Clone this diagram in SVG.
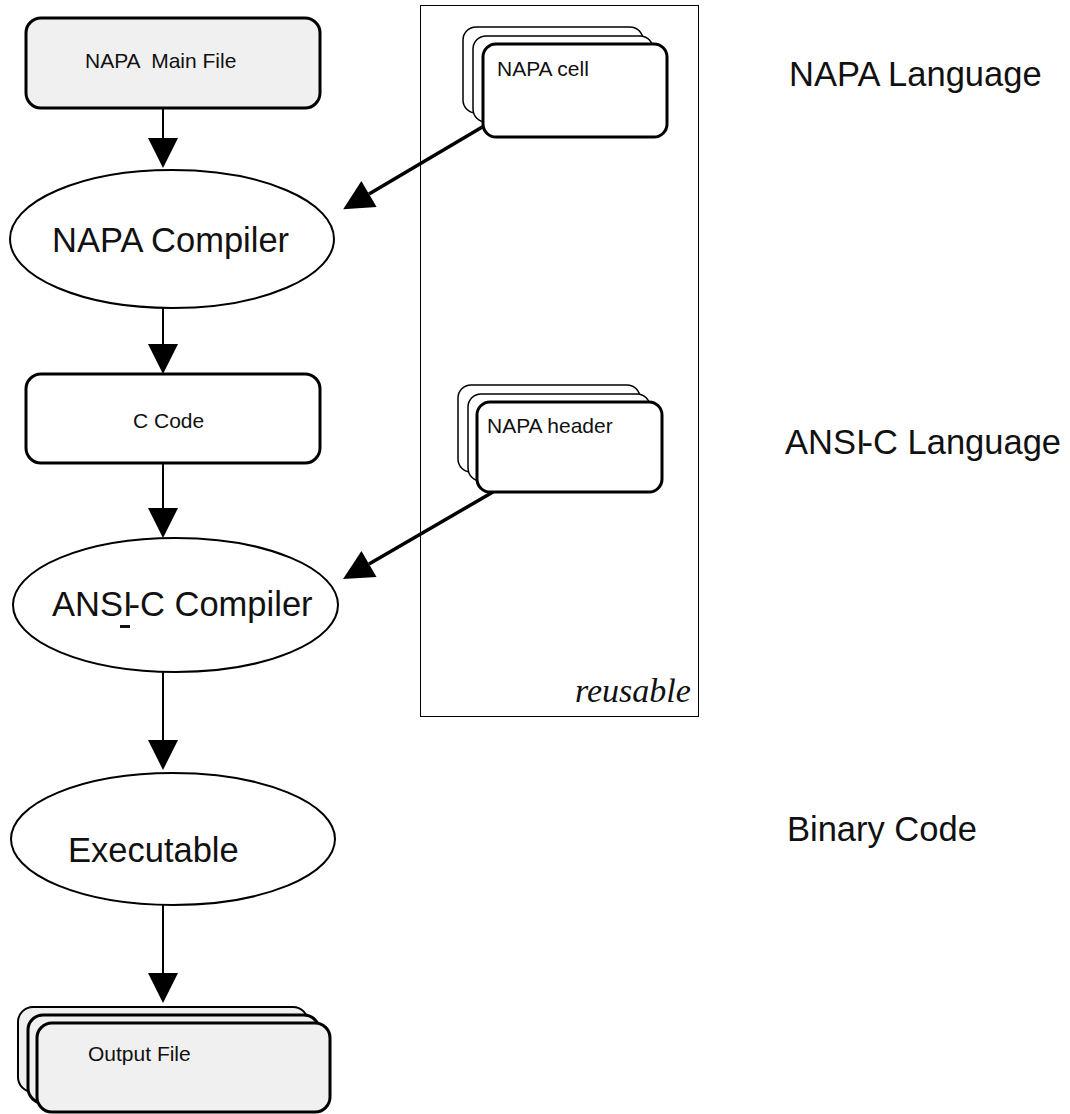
<svg xmlns="http://www.w3.org/2000/svg" width="1070" height="1114" viewBox="0 0 1070 1114">
<style>
  .box { stroke:#000; stroke-width:3; }
  .thin { stroke:#000; stroke-width:1.5; fill:#fff; }
  .ell { fill:#fff; stroke:#000; stroke-width:2; }
  .t { font-family:"Liberation Sans", Arial, sans-serif; fill:#111; }
  .sm { font-size:21px; }
  .lg { font-size:34.5px; }
  .conn { stroke:#000; fill:none; }
</style>
<defs>
  <marker id="ah" markerUnits="userSpaceOnUse" markerWidth="30" markerHeight="30" refX="0" refY="15" orient="auto" overflow="visible">
    <path d="M0,0 L30,15 L0,30 Z" fill="#000"/>
  </marker>
</defs>
<rect width="1070" height="1114" fill="#fff"/>

<g id="reusable">
  <rect x="420.5" y="5.5" width="278" height="711" fill="none" stroke="#000" stroke-width="1"/>
  <text x="575" y="702" font-family="'Liberation Serif', 'Times New Roman', serif" font-style="italic" font-size="34" fill="#111">reusable</text>
</g>

<g id="connectors">
  <line class="conn" stroke-width="2" x1="163" y1="108" x2="163" y2="138" marker-end="url(#ah)"/>
  <line class="conn" stroke-width="2" x1="163" y1="308" x2="163" y2="344" marker-end="url(#ah)"/>
  <line class="conn" stroke-width="2" x1="163" y1="463" x2="163" y2="508" marker-end="url(#ah)"/>
  <line class="conn" stroke-width="2" x1="163" y1="672" x2="163" y2="740" marker-end="url(#ah)"/>
  <line class="conn" stroke-width="2" x1="163" y1="905" x2="163" y2="973" marker-end="url(#ah)"/>
  <line class="conn" stroke-width="3.5" x1="484" y1="126" x2="369" y2="194" marker-end="url(#ah)"/>
  <line class="conn" stroke-width="3.5" x1="493" y1="492" x2="369" y2="564" marker-end="url(#ah)"/>
</g>

<g id="napa-main-file">
  <rect class="box" x="26" y="18" width="294" height="90" rx="15" fill="#f0f0f0"/>
  <text class="t sm" x="85" y="68" xml:space="preserve">NAPA  Main File</text>
</g>

<g id="napa-compiler">
  <ellipse class="ell" cx="172" cy="239" rx="162" ry="69"/>
  <text class="t lg" x="52" y="252">NAPA Compiler</text>
</g>

<g id="c-code">
  <rect class="box" x="26" y="374" width="294" height="89" rx="15" fill="#fff"/>
  <text class="t sm" x="133" y="428">C Code</text>
</g>

<g id="ansi-c-compiler">
  <ellipse class="ell" cx="175.5" cy="605" rx="162.5" ry="67"/>
  <text class="t lg" x="52" y="616">ANSI<tspan dx="-4">-C Compiler</tspan></text>
  <rect x="120" y="625" width="10" height="3" fill="#111"/>
</g>

<g id="executable">
  <ellipse class="ell" cx="173" cy="839" rx="162" ry="66"/>
  <text class="t lg" x="68" y="862">Executable</text>
</g>

<g id="output-file">
  <rect x="18" y="1007" width="290" height="85" rx="15" fill="#f0f0f0" stroke="#000" stroke-width="2"/>
  <rect class="box" x="28" y="1015" width="291" height="88" rx="15" fill="#f0f0f0"/>
  <rect class="box" x="37" y="1023" width="293" height="89" rx="15" fill="#f0f0f0"/>
  <text class="t sm" x="88" y="1061">Output File</text>
</g>

<g id="napa-cell">
  <rect class="thin" x="463" y="27" width="180" height="86" rx="13"/>
  <rect class="thin" x="473" y="36" width="180" height="86" rx="13"/>
  <rect class="box" x="483" y="44" width="184" height="93" rx="13" fill="#fff"/>
  <text class="t sm" x="497" y="76">NAPA cell</text>
</g>

<g id="napa-header">
  <rect class="thin" x="458" y="385" width="182" height="87" rx="13"/>
  <rect class="thin" x="468" y="394" width="182" height="87" rx="13"/>
  <rect class="box" x="477" y="402" width="185" height="90" rx="13" fill="#fff"/>
  <text class="t sm" x="487" y="433">NAPA header</text>
</g>

<g id="labels">
  <text class="t lg" x="789" y="86">NAPA Language</text>
  <text class="t lg" x="785" y="454">ANSI<tspan dx="-4">-C Language</tspan></text>
  <text class="t lg" x="787" y="841">Binary Code</text>
</g>
</svg>
